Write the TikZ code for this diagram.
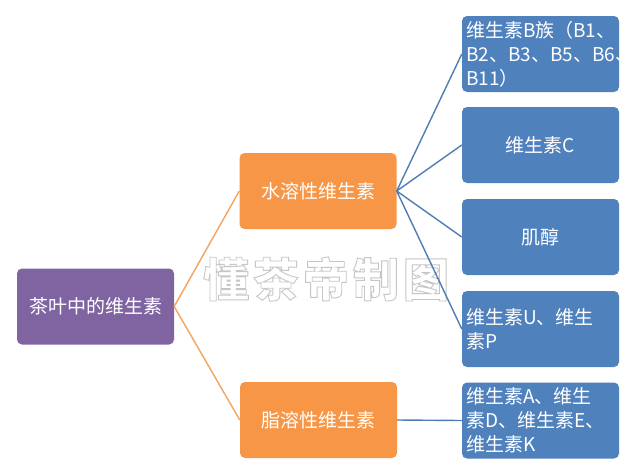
\documentclass[tikz,border=0pt]{standalone}
\usepackage{fontspec}
\setmainfont{Noto Sans CJK SC}
\definecolor{cpurple}{HTML}{8064A2}
\definecolor{corange}{HTML}{F79646}
\definecolor{cblue}{HTML}{4F81BD}
\definecolor{corline}{HTML}{F4A45C}
\definecolor{cbline}{HTML}{4F7DB5}
\newcommand{\outlinetext}[1]{\special{pdf:literal direct 1 Tr 0.9 w}#1\special{pdf:literal direct 0 Tr}}
\begin{document}
\begin{tikzpicture}[x=1pt,y=-1pt,
  box/.style={rounded corners=5pt, minimum width=157pt, minimum height=76pt, inner sep=0pt, text=white, font=\fontsize{19}{24}\selectfont},
  rootbox/.style={box, fill=cpurple},
  midbox/.style={box, fill=corange},
  leafbox/.style={box, fill=cblue},
  leaftext/.style={text width=153pt, align=left, font=\fontsize{19}{24}\selectfont, text=white, inner sep=0pt},
  oline/.style={draw=corline, line width=1.4pt},
  bline/.style={draw=cbline, line width=1.4pt},
  wm/.style={font=\fontsize{46}{46}\selectfont\bfseries}
]
\useasboundingbox (0,0) rectangle (640,474);
\fill[white] (0,0) rectangle (640,474);

% watermark (outlined)
\node[wm, text=gray!45] (wmark) at (326,279) {\outlinetext{懂\hspace{4pt}茶\hspace{4pt}帝\hspace{4pt}制\hspace{4pt}图}};

\node[rootbox] (root) at (95.5,306.5) {茶叶中的维生素};
\node[midbox] (water) at (318,191) {水溶性维生素};
\node[midbox] (fat) at (318.5,420) {脂溶性维生素};

\node[leafbox] (b1) at (540.5,54) {};
\node[leaftext] (t1) at (542.5,54) {维生素B族（B1、\\B2、B3、B5、B6、\\B11）};
\node[leafbox] (b2) at (540.5,145) {维生素C};
\node[leafbox] (b3) at (540.5,237) {肌醇};
\node[leafbox] (b4) at (540.5,329) {};
\node[leaftext] (t4) at (542.5,329) {维生素U、维生\\素P};
\node[leafbox] (b5) at (540.5,420.5) {};
\node[leaftext] (t5) at (542.5,420.5) {维生素A、维生\\素D、维生素E、\\维生素K};

\draw[oline] (root.east) -- (water.west);
\draw[oline] (root.east) -- (fat.west);
\draw[bline] (water.east) -- (b1.west);
\draw[bline] (water.east) -- (b2.west);
\draw[bline] (water.east) -- (b3.west);
\draw[bline] (water.east) -- (b4.west);
\draw[bline] (fat.east) -- (b5.west);
\end{tikzpicture}
\end{document}
